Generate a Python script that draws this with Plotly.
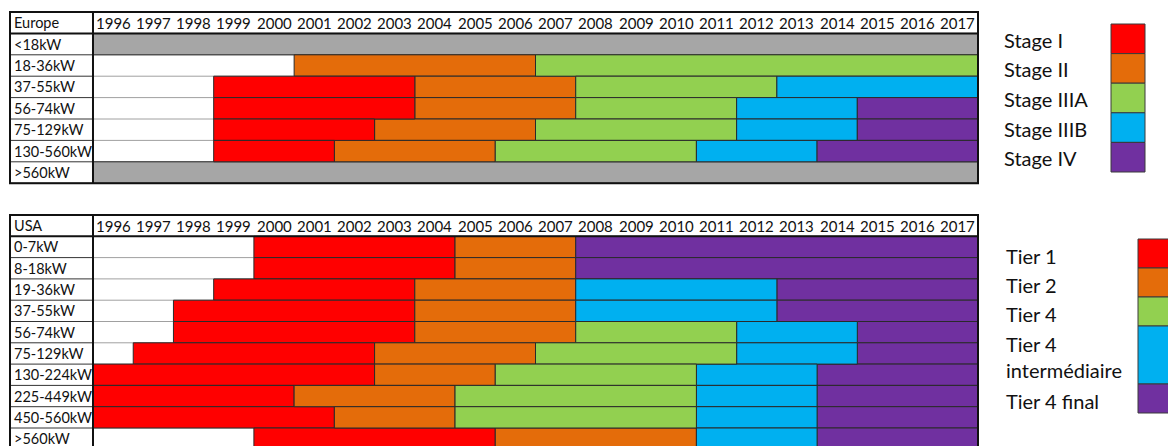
import plotly.graph_objects as go

W, H = 1176, 446
OFF = 8  # the page body adds an 8px margin, so screen px = figure px + OFF
YEARS = list(range(1996, 2018))
END_YEAR = YEARS[-1] + 1

COLORS = {
    "n/a": "#A6A6A6",
    "Stage I": "#FF0000", "Stage II": "#E46C0A", "Stage IIIA": "#92D050",
    "Stage IIIB": "#00B0F0", "Stage IV": "#7030A0",
    "Tier 1": "#FF0000", "Tier 2": "#E46C0A", "Tier 4": "#92D050",
    "Tier 4 intermédiaire": "#00B0F0", "Tier 4 final": "#7030A0",
}

# Europe: each row = list of (stage, start year); a stage lasts until the next one
EU_ROWS = ["<18kW", "18-36kW", "37-55kW", "56-74kW", "75-129kW", "130-560kW", ">560kW"]
EU_SEGMENTS = [
    [("n/a", 1996)],
    [("Stage II", 2001), ("Stage IIIA", 2007)],
    [("Stage I", 1999), ("Stage II", 2004), ("Stage IIIA", 2008), ("Stage IIIB", 2013)],
    [("Stage I", 1999), ("Stage II", 2004), ("Stage IIIA", 2008), ("Stage IIIB", 2012), ("Stage IV", 2015)],
    [("Stage I", 1999), ("Stage II", 2003), ("Stage IIIA", 2007), ("Stage IIIB", 2012), ("Stage IV", 2015)],
    [("Stage I", 1999), ("Stage II", 2002), ("Stage IIIA", 2006), ("Stage IIIB", 2011), ("Stage IV", 2014)],
    [("n/a", 1996)],
]
EU_LEGEND = ["Stage I", "Stage II", "Stage IIIA", "Stage IIIB", "Stage IV"]

US_ROWS = ["0-7kW", "8-18kW", "19-36kW", "37-55kW", "56-74kW", "75-129kW",
           "130-224kW", "225-449kW", "450-560kW", ">560kW"]
US_SEGMENTS = [
    [("Tier 1", 2000), ("Tier 2", 2005), ("Tier 4 final", 2008)],
    [("Tier 1", 2000), ("Tier 2", 2005), ("Tier 4 final", 2008)],
    [("Tier 1", 1999), ("Tier 2", 2004), ("Tier 4 intermédiaire", 2008), ("Tier 4 final", 2013)],
    [("Tier 1", 1998), ("Tier 2", 2004), ("Tier 4 intermédiaire", 2008), ("Tier 4 final", 2013)],
    [("Tier 1", 1998), ("Tier 2", 2004), ("Tier 4", 2008), ("Tier 4 intermédiaire", 2012), ("Tier 4 final", 2015)],
    [("Tier 1", 1997), ("Tier 2", 2003), ("Tier 4", 2007), ("Tier 4 intermédiaire", 2012), ("Tier 4 final", 2015)],
    [("Tier 1", 1996), ("Tier 2", 2003), ("Tier 4", 2006), ("Tier 4 intermédiaire", 2011), ("Tier 4 final", 2014)],
    [("Tier 1", 1996), ("Tier 2", 2001), ("Tier 4", 2005), ("Tier 4 intermédiaire", 2011), ("Tier 4 final", 2014)],
    [("Tier 1", 1996), ("Tier 2", 2002), ("Tier 4", 2005), ("Tier 4 intermédiaire", 2011), ("Tier 4 final", 2014)],
    [("Tier 1", 2000), ("Tier 2", 2006), ("Tier 4 intermédiaire", 2011), ("Tier 4 final", 2014)],
]
US_LEGEND = ["Tier 1", "Tier 2", "Tier 4", "Tier 4 intermédiaire", "Tier 4 final"]
US_LEGEND_UNITS = [1, 1, 1, 2, 1]

FONT = "Lato"
YEAR_PX = 40.23
TABLE_LEFT, TABLE_RIGHT = 10, 978
LABEL_YEARS = 83 / YEAR_PX
X_MIN = YEARS[0] - LABEL_YEARS
PAD = 3  # px of slack around each table so the border is not clipped


def px_x(p):
    return (p - OFF) / W


def px_y(p):
    return 1 - (p - OFF) / H


fig = go.Figure()
shapes = []
annotations = []


def add_table(title, rows, segments, xr, yr, top_px, row_px, bottom_px=None):
    n = len(rows)
    xa = "xaxis" + xr[1:]
    ya = "yaxis" + yr[1:]
    per_stage = {}
    for i, segs in enumerate(segments):
        for j, (stage, start) in enumerate(segs):
            end = segs[j + 1][1] if j + 1 < len(segs) else END_YEAR
            d = per_stage.setdefault(stage, {"y": [], "x": [], "base": []})
            d["y"].append(i)
            d["base"].append(start)
            d["x"].append(end - start)
    for stage, d in per_stage.items():
        fig.add_trace(go.Bar(
            y=d["y"], x=d["x"], base=d["base"], orientation="h", width=[1] * len(d["y"]),
            marker=dict(color=COLORS[stage], line=dict(color="#2a2a2a", width=1)),
            xaxis=xr, yaxis=yr, showlegend=False, hoverinfo="skip",
        ))
    # row separators
    for i in range(n):
        y = i + 0.5
        shapes.append(dict(type="line", xref=xr, yref=yr, x0=X_MIN, x1=YEARS[0], y0=y, y1=y,
                           line=dict(color="#333", width=1), layer="above"))
        shapes.append(dict(type="line", xref=xr, yref=yr, x0=YEARS[0], x1=END_YEAR, y0=y, y1=y,
                           line=dict(color="#a0a0a0", width=1), layer="below"))
    # header line, label column divider, outer border
    shapes.append(dict(type="line", xref=xr, yref=yr, x0=X_MIN, x1=END_YEAR, y0=-0.5, y1=-0.5,
                       line=dict(color="#111", width=2), layer="above"))
    shapes.append(dict(type="line", xref=xr, yref=yr, x0=YEARS[0], x1=YEARS[0], y0=-1.5, y1=n - 0.5,
                       line=dict(color="#111", width=2), layer="above"))
    shapes.append(dict(type="rect", xref=xr, yref=yr, x0=X_MIN, x1=END_YEAR, y0=-1.5, y1=n - 0.5,
                       line=dict(color="#111", width=2), layer="above"))
    # texts
    lab_font = dict(family=FONT, size=14.5, color="#111")
    annotations.append(dict(x=X_MIN + 2 / YEAR_PX, y=-1, xref=xr, yref=yr, text=title,
                            showarrow=False, xanchor="left", yanchor="middle", font=lab_font))
    for yv in YEARS:
        annotations.append(dict(x=yv + 0.5, y=-1, xref=xr, yref=yr, text=str(yv),
                                showarrow=False, yanchor="middle",
                                font=dict(family=FONT, size=15, color="#111")))
    for i, r in enumerate(rows):
        annotations.append(dict(x=X_MIN + 2 / YEAR_PX, y=i, xref=xr, yref=yr, text=r,
                                showarrow=False, xanchor="left", yanchor="middle", font=lab_font))
    # axes (domain in screen px, clamped to the figure)
    left_px = max(OFF, TABLE_LEFT - PAD)
    right_px = TABLE_RIGHT + PAD
    top_edge = max(OFF, top_px - PAD)
    y_top = -1.5 - (top_px - top_edge) / row_px
    if bottom_px is None:
        bottom_px = top_px + (n + 1) * row_px + PAD
        y_bot = n - 0.5 + PAD / row_px
    else:
        y_bot = -1.5 + (bottom_px - top_px) / row_px
    fig.update_layout(**{
        xa: dict(domain=[px_x(left_px), px_x(right_px)],
                 range=[X_MIN - (TABLE_LEFT - left_px) / YEAR_PX, END_YEAR + PAD / YEAR_PX],
                 visible=False, anchor=yr, fixedrange=True),
        ya: dict(domain=[max(0, px_y(bottom_px)), min(1, px_y(top_edge))], range=[y_bot, y_top],
                 visible=False, anchor=xr, fixedrange=True),
    })


add_table("Europe", EU_ROWS, EU_SEGMENTS, "x", "y", 12, 21.4)
add_table("USA", US_ROWS, US_SEGMENTS, "x2", "y2", 215, 21.3, bottom_px=446)

# legends (swatch column + labels)
line_c = "#3a3a3a"
leg_font = dict(family=FONT, size=20, color="#111")
top = 24
unit = 29.6
for k, name in enumerate(EU_LEGEND):
    y0, y1 = top + unit * k, top + unit * (k + 1)
    shapes.append(dict(type="rect", xref="paper", yref="paper", x0=px_x(1111), x1=px_x(1145),
                       y0=px_y(y1), y1=px_y(y0), fillcolor=COLORS[name], line=dict(color=line_c, width=1)))
    annotations.append(dict(x=px_x(1002), y=px_y((y0 + y1) / 2 + 1), xref="paper", yref="paper", text=name,
                            showarrow=False, xanchor="left", yanchor="middle", font=leg_font))

top = 239
unit = 29.0
acc = 0
for k, name in enumerate(US_LEGEND):
    y0 = top + unit * acc
    acc += US_LEGEND_UNITS[k]
    y1 = top + unit * acc
    shapes.append(dict(type="rect", xref="paper", yref="paper", x0=px_x(1138), x1=px_x(1190),
                       y0=px_y(y1), y1=px_y(y0), fillcolor=COLORS[name], line=dict(color=line_c, width=1)))
    label = name.replace(" intermédiaire", "<br>intermédiaire")
    annotations.append(dict(x=px_x(1004), y=px_y((y0 + y1) / 2 + 2), xref="paper", yref="paper", text=label,
                            showarrow=False, xanchor="left", yanchor="middle", align="left",
                            font=leg_font))

fig.update_layout(
    width=W, height=H, margin=dict(l=0, r=0, t=0, b=0),
    paper_bgcolor="white", plot_bgcolor="white",
    barmode="overlay", showlegend=False,
    shapes=shapes, annotations=annotations,
)
fig.write_html("out.html", config={"displayModeBar": False})
